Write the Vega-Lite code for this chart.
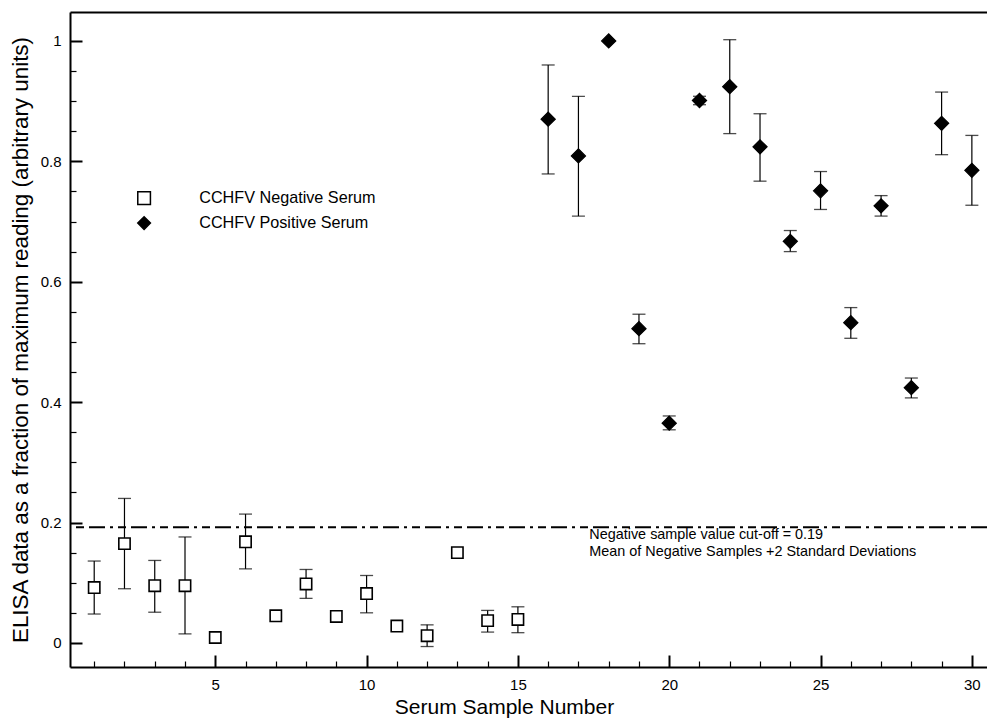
{
  "$schema": "https://vega.github.io/schema/vega-lite/v6.json",
  "width": 917,
  "height": 655,
  "autosize": "none",
  "padding": {"left": 70, "top": 12, "right": 0, "bottom": 55},
  "background": "white",
  "config": {
    "font": "Liberation Sans",
    "view": {"stroke": null},
    "axis": {
      "grid": false,
      "domainColor": "black",
      "domainWidth": 2,
      "tickColor": "black",
      "labelColor": "black",
      "labelFontSize": 15,
      "titleFontSize": 21,
      "titleFontWeight": "normal",
      "titleColor": "black",
      "labelOverlap": false,
      "labelFlush": false
    }
  },
  "datasets": {
    "points": [
      {"sample": 1, "value": 0.092, "lo": 0.048, "hi": 0.136, "series": "CCHFV Negative Serum"},
      {"sample": 2, "value": 0.165, "lo": 0.090, "hi": 0.240, "series": "CCHFV Negative Serum"},
      {"sample": 3, "value": 0.095, "lo": 0.051, "hi": 0.137, "series": "CCHFV Negative Serum"},
      {"sample": 4, "value": 0.095, "lo": 0.015, "hi": 0.176, "series": "CCHFV Negative Serum"},
      {"sample": 5, "value": 0.009, "lo": null, "hi": null, "series": "CCHFV Negative Serum"},
      {"sample": 6, "value": 0.168, "lo": 0.123, "hi": 0.214, "series": "CCHFV Negative Serum"},
      {"sample": 7, "value": 0.045, "lo": null, "hi": null, "series": "CCHFV Negative Serum"},
      {"sample": 8, "value": 0.098, "lo": 0.074, "hi": 0.122, "series": "CCHFV Negative Serum"},
      {"sample": 9, "value": 0.044, "lo": null, "hi": null, "series": "CCHFV Negative Serum"},
      {"sample": 10, "value": 0.082, "lo": 0.050, "hi": 0.112, "series": "CCHFV Negative Serum"},
      {"sample": 11, "value": 0.028, "lo": null, "hi": null, "series": "CCHFV Negative Serum"},
      {"sample": 12, "value": 0.012, "lo": -0.006, "hi": 0.030, "series": "CCHFV Negative Serum"},
      {"sample": 13, "value": 0.150, "lo": null, "hi": null, "series": "CCHFV Negative Serum"},
      {"sample": 14, "value": 0.037, "lo": 0.018, "hi": 0.054, "series": "CCHFV Negative Serum"},
      {"sample": 15, "value": 0.039, "lo": 0.017, "hi": 0.060, "series": "CCHFV Negative Serum"},
      {"sample": 16, "value": 0.870, "lo": 0.779, "hi": 0.960, "series": "CCHFV Positive Serum"},
      {"sample": 17, "value": 0.809, "lo": 0.709, "hi": 0.908, "series": "CCHFV Positive Serum"},
      {"sample": 18, "value": 1.000, "lo": null, "hi": null, "series": "CCHFV Positive Serum"},
      {"sample": 19, "value": 0.522, "lo": 0.497, "hi": 0.546, "series": "CCHFV Positive Serum"},
      {"sample": 20, "value": 0.365, "lo": 0.354, "hi": 0.377, "series": "CCHFV Positive Serum"},
      {"sample": 21, "value": 0.901, "lo": 0.894, "hi": 0.908, "series": "CCHFV Positive Serum"},
      {"sample": 22, "value": 0.924, "lo": 0.846, "hi": 1.002, "series": "CCHFV Positive Serum"},
      {"sample": 23, "value": 0.824, "lo": 0.767, "hi": 0.879, "series": "CCHFV Positive Serum"},
      {"sample": 24, "value": 0.667, "lo": 0.650, "hi": 0.685, "series": "CCHFV Positive Serum"},
      {"sample": 25, "value": 0.751, "lo": 0.720, "hi": 0.783, "series": "CCHFV Positive Serum"},
      {"sample": 26, "value": 0.532, "lo": 0.506, "hi": 0.557, "series": "CCHFV Positive Serum"},
      {"sample": 27, "value": 0.726, "lo": 0.709, "hi": 0.743, "series": "CCHFV Positive Serum"},
      {"sample": 28, "value": 0.424, "lo": 0.407, "hi": 0.440, "series": "CCHFV Positive Serum"},
      {"sample": 29, "value": 0.863, "lo": 0.811, "hi": 0.915, "series": "CCHFV Positive Serum"},
      {"sample": 30, "value": 0.785, "lo": 0.727, "hi": 0.843, "series": "CCHFV Positive Serum"}
    ],
    "notes": [
      {"x": 17.36, "y": 0.179, "label": "Negative sample value cut-off = 0.19"},
      {"x": 17.36, "y": 0.151, "label": "Mean of Negative Samples +2 Standard Deviations"}
    ],
    "cutoff": [{"cut": 0.192}]
  },
  "layer": [
    {
      "data": {"name": "points"},
      "transform": [{"filter": "datum.lo != null"}],
      "mark": {"type": "rule", "color": "black", "strokeWidth": 1.2},
      "encoding": {
        "x": {
          "field": "sample", "type": "quantitative",
          "scale": {"domain": [0.2, 30.5], "nice": false, "zero": false},
          "axis": {
            "values": [5, 10, 15, 20, 25, 30],
            "tickSize": -12,
            "tickWidth": 2,
            "labelPadding": 22,
            "title": "Serum Sample Number",
            "titleX": 434,
            "titlePadding": 4
          }
        },
        "y": {
          "field": "lo", "type": "quantitative",
          "scale": {"domain": [-0.04, 1.048], "nice": false, "zero": false},
          "axis": {
            "values": [0, 0.2, 0.4, 0.6, 0.8, 1],
            "format": "~g",
            "tickSize": -12,
            "tickWidth": 2,
            "labelPadding": 21,
            "title": "ELISA data as a fraction of maximum reading (arbitrary units)",
            "titleFontSize": 22.4,
            "titlePadding": 8
          }
        },
        "y2": {"field": "hi"}
      }
    },
    {
      "data": {"name": "points"},
      "mark": {"type": "point", "opacity": 0},
      "encoding": {
        "x": {
          "field": "sample", "type": "quantitative",
          "axis": {
            "orient": "bottom",
            "values": [1,2,3,4,6,7,8,9,11,12,13,14,16,17,18,19,21,22,23,24,26,27,28,29],
            "labels": false, "domain": false, "title": null,
            "tickSize": -6, "tickWidth": 1.2
          }
        },
        "y": {
          "field": "value", "type": "quantitative",
          "axis": {
            "orient": "left",
            "values": [0.05, 0.1, 0.15, 0.25, 0.3, 0.35, 0.45, 0.5, 0.55, 0.65, 0.7, 0.75, 0.85, 0.9, 0.95],
            "labels": false, "domain": false, "title": null,
            "tickSize": -6, "tickWidth": 1.2
          }
        }
      }
    },
    {
      "data": {"name": "points"},
      "mark": {"type": "point", "opacity": 0},
      "encoding": {
        "x": {"field": "sample", "type": "quantitative", "axis": {"orient": "top", "labels": false, "ticks": false, "title": null, "domain": true, "domainWidth": 2}},
        "y": {"field": "value", "type": "quantitative", "axis": null}
      }
    },
    {
      "data": {"name": "points"},
      "transform": [{"filter": "datum.lo != null"}],
      "mark": {"type": "tick", "orient": "horizontal", "size": 13, "thickness": 1.3, "color": "black"},
      "encoding": {
        "x": {"field": "sample", "type": "quantitative", "axis": null},
        "y": {"field": "lo", "type": "quantitative", "axis": null}
      }
    },
    {
      "data": {"name": "points"},
      "transform": [{"filter": "datum.hi != null"}],
      "mark": {"type": "tick", "orient": "horizontal", "size": 13, "thickness": 1.3, "color": "black"},
      "encoding": {
        "x": {"field": "sample", "type": "quantitative", "axis": null},
        "y": {"field": "hi", "type": "quantitative", "axis": null}
      }
    },
    {
      "data": {"name": "cutoff"},
      "mark": {"type": "rule", "color": "black", "strokeWidth": 2, "strokeDash": [16, 5, 8, 5, 3, 5]},
      "encoding": {
        "y": {"field": "cut", "type": "quantitative", "axis": null}
      }
    },
    {
      "data": {"name": "points"},
      "transform": [{"filter": "datum.series === 'CCHFV Negative Serum'"}],
      "mark": {"type": "point", "filled": true, "stroke": "black", "strokeWidth": 1.6, "opacity": 1, "size": 128},
      "encoding": {
        "x": {"field": "sample", "type": "quantitative", "axis": null},
        "y": {"field": "value", "type": "quantitative", "axis": null},
        "shape": {
          "field": "series", "type": "nominal",
          "scale": {"domain": ["CCHFV Negative Serum", "CCHFV Positive Serum"], "range": ["square", "diamond"]},
          "legend": {"orient": "none", "legendX": 66, "legendY": 178, "title": null, "labelFontSize": 16.2, "labelColor": "black", "labelLimit": 400, "symbolSize": 160, "labelOffset": 47, "rowPadding": 5}
        },
        "fill": {
          "field": "series", "type": "nominal",
          "scale": {"domain": ["CCHFV Negative Serum", "CCHFV Positive Serum"], "range": ["white", "black"]},
          "legend": {"orient": "none", "legendX": 66, "legendY": 178, "title": null, "labelFontSize": 16.2, "labelColor": "black", "labelLimit": 400, "symbolSize": 160, "labelOffset": 47, "rowPadding": 5}
        }
      }
    },
    {
      "data": {"name": "points"},
      "transform": [{"filter": "datum.series === 'CCHFV Positive Serum'"}],
      "mark": {"type": "point", "filled": true, "stroke": "black", "strokeWidth": 1.2, "opacity": 1, "size": 200},
      "encoding": {
        "x": {"field": "sample", "type": "quantitative", "axis": null},
        "y": {"field": "value", "type": "quantitative", "axis": null},
        "shape": {"field": "series", "type": "nominal"},
        "fill": {"field": "series", "type": "nominal"}
      }
    },
    {
      "data": {"name": "notes"},
      "mark": {"type": "text", "align": "left", "baseline": "middle", "fontSize": 14.4, "color": "black"},
      "encoding": {
        "x": {"field": "x", "type": "quantitative", "axis": null},
        "y": {"field": "y", "type": "quantitative", "axis": null},
        "text": {"field": "label"}
      }
    }
  ],
  "resolve": {"axis": {"x": "independent", "y": "independent"}}
}
